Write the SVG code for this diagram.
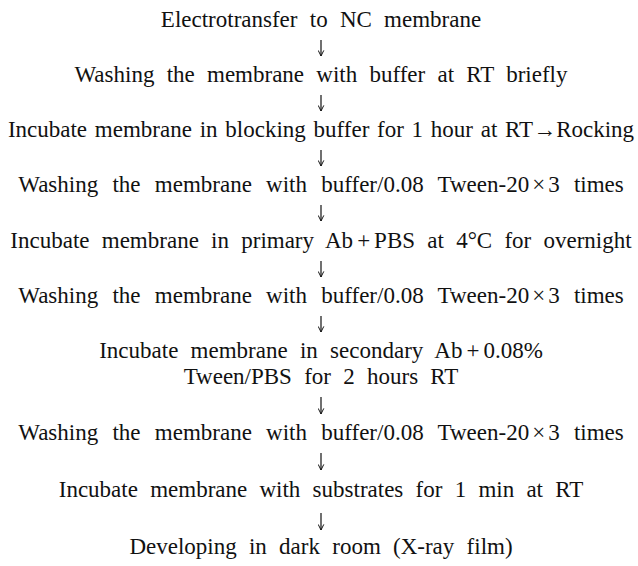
<svg xmlns="http://www.w3.org/2000/svg" width="638" height="566" viewBox="0 0 638 566">
<defs>
<marker id="ah" viewBox="0 0 10 10" refX="9" refY="5" markerWidth="7" markerHeight="7" orient="auto" markerUnits="userSpaceOnUse">
<path d="M1,1 L9,5 L1,9" fill="none" stroke="#111" stroke-width="1.4"/>
</marker>
</defs>
<rect width="638" height="566" fill="#fff"/>
<g id="steps" font-family="Liberation Serif" font-size="23" fill="#111" text-anchor="middle" word-spacing="6.5">
<g id="step1"><text x="321" y="27">Electrotransfer to NC membrane</text></g>
<g id="step2"><text x="321" y="82">Washing the membrane with buffer at RT briefly</text></g>
<g id="step3"><text x="321" y="137" word-spacing="2">Incubate membrane in blocking buffer for 1 hour at RT→Rocking</text></g>
<g id="step4"><text x="321" y="192" word-spacing="8.5">Washing the membrane with buffer/0.08 Tween-20<tspan dx="3">×</tspan><tspan dx="3">3</tspan> times</text></g>
<g id="step5"><text x="321" y="248">Incubate membrane in primary Ab<tspan dx="4">+</tspan><tspan dx="4">PBS</tspan> at 4°C for overnight</text></g>
<g id="step6"><text x="321" y="303" word-spacing="8.5">Washing the membrane with buffer/0.08 Tween-20<tspan dx="3">×</tspan><tspan dx="3">3</tspan> times</text></g>
<g id="step7"><text x="321" y="358">Incubate membrane in secondary Ab<tspan dx="4">+</tspan><tspan dx="4">0.08%</tspan></text><text x="321" y="384">Tween/PBS for 2 hours RT</text></g>
<g id="step8"><text x="321" y="440" word-spacing="8.5">Washing the membrane with buffer/0.08 Tween-20<tspan dx="3">×</tspan><tspan dx="3">3</tspan> times</text></g>
<g id="step9"><text x="321" y="497">Incubate membrane with substrates for 1 min at RT</text></g>
<g id="step10"><text x="321" y="554">Developing in dark room (X-ray film)</text></g>
</g>
<g id="connectors" stroke="#111" stroke-width="1.2" fill="none" marker-end="url(#ah)">
<line x1="321" y1="40" x2="321" y2="56"/>
<line x1="321" y1="95" x2="321" y2="111"/>
<line x1="321" y1="150" x2="321" y2="166"/>
<line x1="321" y1="205" x2="321" y2="221"/>
<line x1="321" y1="261" x2="321" y2="277"/>
<line x1="321" y1="316" x2="321" y2="332"/>
<line x1="321" y1="397" x2="321" y2="414"/>
<line x1="321" y1="453" x2="321" y2="470"/>
<line x1="321" y1="513" x2="321" y2="530"/>
</g>
</svg>
